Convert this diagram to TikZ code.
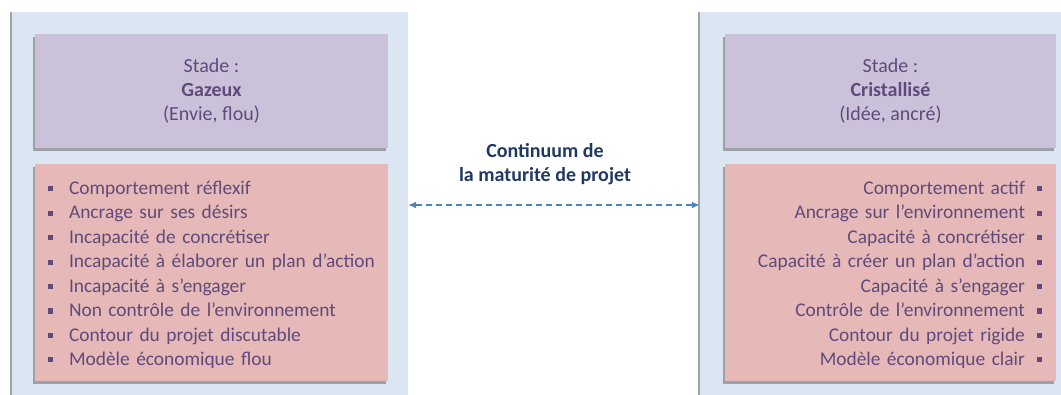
\documentclass[tikz,border=0pt]{standalone}
\usepackage{fontspec}
\setmainfont{Carlito}
\usetikzlibrary{shadows,arrows.meta}

\definecolor{panelblue}{HTML}{DCE6F2}
\definecolor{stagelilac}{HTML}{CCC1DA}
\definecolor{traitpink}{HTML}{E6B9B8}
\definecolor{textpurple}{HTML}{604A7B}
\definecolor{titlenavy}{HTML}{1F3864}
\definecolor{arrowblue}{HTML}{4F81BD}

\newcommand{\blt}{\rule[0.16em]{0.26em}{0.26em}}

\begin{document}
\begin{tikzpicture}[x=1pt, y=-1pt,
panel/.style = {rectangle, fill=panelblue, inner sep=0pt,
  drop shadow={shadow xshift=-2.5pt, shadow yshift=0pt, fill=black!45, opacity=0.8}},
stage/.style = {rectangle, fill=stagelilac, text=textpurple, align=center,
  minimum height=114pt, inner sep=0pt,
  font=\fontsize{20}{24}\selectfont,
  drop shadow={shadow xshift=-2pt, shadow yshift=-3pt, fill=black!55, opacity=0.6}},
traits/.style = {rectangle, fill=traitpink, text=textpurple,
  minimum height=217pt, inner ysep=0pt,
  font=\fontsize{19.4}{24.45}\selectfont,
  drop shadow={shadow xshift=-2pt, shadow yshift=-3pt, fill=black!55, opacity=0.6}},
]

\useasboundingbox (0,0) rectangle (1061,394);
\clip (0,0) rectangle (1061,394);

% Draw panels
\node[panel, minimum width=396pt, minimum height=386pt] (gazPanel) at (210,205) {};
\node[panel, minimum width=380pt, minimum height=386pt] (criPanel) at (890,205) {};

% Draw stages
\node[stage, minimum width=353pt] (gazStage) at (211.5,91) {Stade :\\\textbf{Gazeux}\\(Envie, flou)};
\node[stage, minimum width=331pt] (criStage) at (890.5,91) {Stade :\\\textbf{Cristallisé}\\(Idée, ancré)};

% Draw traits
\node[traits, text width=340pt, inner xsep=6.5pt, align=left] (gazTraits) at (211.5,272.5) {%
\rule{0pt}{18pt}\hspace{6.5pt}\blt\hspace{16pt}Comportement réflexif\\
\hspace{6.5pt}\blt\hspace{16pt}Ancrage sur ses désirs\\
\hspace{6.5pt}\blt\hspace{16pt}Incapacité de concrétiser\\
\hspace{6.5pt}\blt\hspace{16pt}Incapacité à élaborer un plan d’action\\
\hspace{6.5pt}\blt\hspace{16pt}Incapacité à s’engager\\
\hspace{6.5pt}\blt\hspace{16pt}Non contrôle de l’environnement\\
\hspace{6.5pt}\blt\hspace{16pt}Contour du projet discutable\\
\hspace{6.5pt}\blt\hspace{16pt}Modèle économique flou};
\node[traits, text width=303pt, inner xsep=14pt, align=right] (criTraits) at (890.5,272.5) {%
\rule{0pt}{18pt}Comportement actif\hspace{12pt}\blt\\
Ancrage sur l’environnement\hspace{12pt}\blt\\
Capacité à concrétiser\hspace{12pt}\blt\\
Capacité à créer un plan d’action\hspace{12pt}\blt\\
Capacité à s’engager\hspace{12pt}\blt\\
Contrôle de l’environnement\hspace{12pt}\blt\\
Contour du projet rigide\hspace{12pt}\blt\\
Modèle économique clair\hspace{12pt}\blt};

% Draw continuum
\node[text=titlenavy, align=center, font=\fontsize{20}{24}\selectfont\bfseries] (continuum) at (545,164) {Continuum de\\la maturité de projet};
\draw[arrowblue, line width=1.4pt, dash pattern=on 6pt off 4pt,
  {Latex[length=8pt,width=7pt]}-{Latex[length=8pt,width=7pt]}] (gazPanel.east) -- (criPanel.west);

\end{tikzpicture}
\end{document}
